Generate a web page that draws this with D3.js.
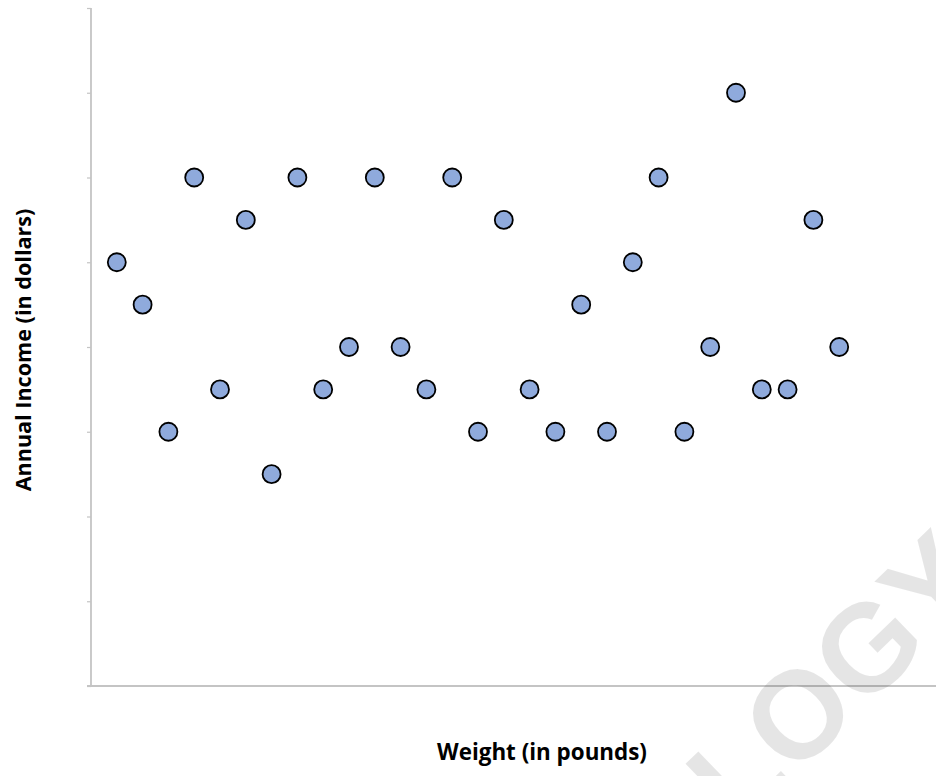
<!DOCTYPE html>
<html>
<head>
<meta charset="utf-8">
<script src="https://cdn.jsdelivr.net/npm/d3@7"></script>
<style>
  html, body { margin: 0; padding: 0; background: #fff; }
  svg { display: block; }
</style>
</head>
<body>
<svg id="chart" width="936" height="776"></svg>
<script>
// ---- data ----
const weights = [1,2,3,4,5,6,7,8,9,10,11,12,13,14,15,16,17,18,19,20,21,22,23,24,25,26,27,28,29];
const incomes = [5,4.5,3,6,3.5,5.5,2.5,6,3.5,4,6,4,3.5,6,3,5.5,3.5,3,4.5,3,5,6,3,4,7,3.5,3.5,5.5,4];
const yTicks = [0,1,2,3,4,5,6,7,8];
const xTitle = "Weight (in pounds)";
const yTitle = "Annual Income (in dollars)";
const watermark = "LOGY";

(function () {
const svg = d3.select("#chart");
const W = 936, H = 776;
const padL = 91, padT = 8, baseY = 686;
const unit = 25.8;

const x = d3.scaleLinear().domain([0, 35]).range([padL, padL + 35 * unit]);
const y = d3.scaleLinear().domain([0, 8]).range([baseY, padT]);

// axes
const axisColor = "#c4c4c4";
const yAxis = svg.append("g").attr("transform", `translate(${padL},0)`)
  .call(d3.axisLeft(y).tickValues(yTicks).tickSize(4).tickFormat(""));
yAxis.select(".domain").attr("stroke", axisColor).attr("stroke-width", 1.8)
  .attr("d", `M0,${baseY}V${padT}`);
yAxis.selectAll(".tick line").attr("stroke", axisColor).attr("stroke-width", 1.2);

const xAxis = svg.append("g").attr("transform", `translate(0,${baseY})`)
  .call(d3.axisBottom(x).tickValues([]).tickSize(0));
xAxis.select(".domain").attr("stroke", axisColor).attr("stroke-width", 1.8)
  .attr("d", `M${padL - 4},0H${W}`);

// points
svg.append("g").selectAll("circle")
  .data(weights.map((w, i) => ({w, v: incomes[i]})))
  .join("circle")
  .attr("cx", d => x(d.w))
  .attr("cy", d => y(d.v))
  .attr("r", 9)
  .attr("fill", "#8faadc")
  .attr("stroke", "#000")
  .attr("stroke-width", 1.8);

// titles
const font = "'Open Sans', 'Noto Sans', 'Liberation Sans', sans-serif";
function fitText(sel, targetWidth, baseSize) {
  sel.attr("font-size", baseSize);
  const w = sel.node().getComputedTextLength();
  sel.attr("font-size", baseSize * targetWidth / w);
}
const xt = svg.append("text")
  .attr("x", 542).attr("y", 760)
  .attr("text-anchor", "middle")
  .attr("font-family", font).attr("font-weight", "bold")
  .attr("fill", "#000")
  .text(xTitle);
fitText(xt, 210, 18);

const yt = svg.append("text")
  .attr("transform", `translate(31,350) rotate(-90)`)
  .attr("text-anchor", "middle")
  .attr("font-family", font).attr("font-weight", "bold")
  .attr("fill", "#000")
  .text(yTitle);
fitText(yt, 283, 18);

// watermark: centre the "O" at (797,713), baseline rotated -44deg
const wmSize = 124;
const wm = svg.append("g").attr("transform", "translate(797,713) rotate(-44)");
const wt = wm.append("text")
  .attr("x", 0).attr("y", 0)
  .attr("font-family", "'Liberation Sans', Arial, sans-serif").attr("font-weight", "bold")
  .attr("font-size", wmSize)
  .attr("fill", "#000").attr("fill-opacity", 0.1)
  .text(watermark);
const ext = wt.node().getExtentOfChar(1);
const capH = wmSize * 0.716;
wt.attr("x", -(ext.x + ext.width / 2)).attr("y", capH / 2);
})();
</script>
</body>
</html>
